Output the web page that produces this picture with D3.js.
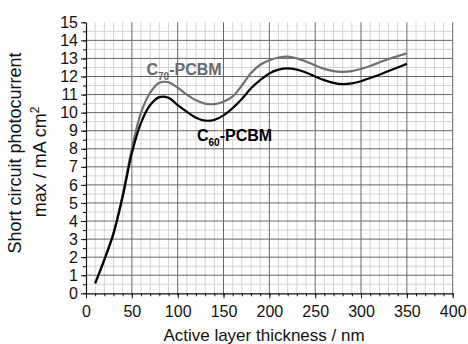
<!DOCTYPE html>
<html lang="en">
<head>
	<meta charset="UTF-8">
	<title>photocurrent vs thickness</title>
	<style>
		body { margin: 0; background: #fff; }
		text { font-family: "Liberation Sans", Arial, sans-serif; }
	</style>
</head>
<body>
	<svg id="cont" width="468" height="344"></svg>
</body>
<script src="https://cdn.jsdelivr.net/npm/d3@7"></script>
<script>
	// data
	let thickness = [10,20,30,40,50,60,70,80,90,100,110,120,130,140,150,160,170,180,190,200,210,220,230,240,250,260,270,280,290,300,310,320,330,340,350];
	let c60 = [0.55,1.85,3.3,5.35,7.75,9.43,10.42,10.86,10.82,10.42,10.05,9.72,9.56,9.6,9.85,10.25,10.75,11.35,11.8,12.17,12.38,12.45,12.38,12.22,12.0,11.8,11.65,11.58,11.62,11.74,11.92,12.1,12.3,12.5,12.7];
	let c70 = [0.55,1.88,3.35,5.45,8.0,10.0,11.1,11.65,11.68,11.38,11.0,10.68,10.5,10.47,10.6,10.9,11.5,12.2,12.65,12.9,13.05,13.1,13.0,12.83,12.62,12.42,12.3,12.26,12.3,12.42,12.58,12.78,12.97,13.13,13.28];
	let xTicks = [0,50,100,150,200,250,300,350,400];
	let yTicks = [0,1,2,3,4,5,6,7,8,9,10,11,12,13,14,15];

	let svg = d3.select("#cont");
	let x = d3.scaleLinear().domain([0,400]).range([86,452.7]);
	let y = d3.scaleLinear().domain([0,15]).range([293.3,22.3]);

	let minorX = d3.range(0,401,10);
	let minorY = d3.range(0,15.01,0.5);

	// grid
	let grid = svg.append("g");
	grid.selectAll(".mx").data(minorX.filter(d=>d%50!=0)).enter().append("line")
		.attr("x1",d=>x(d)).attr("x2",d=>x(d)).attr("y1",y(0)).attr("y2",y(15))
		.attr("stroke","#d4d4d4").attr("stroke-width",1);
	grid.selectAll(".my").data(minorY.filter(d=>d%1!=0)).enter().append("line")
		.attr("x1",x(0)).attr("x2",x(400)).attr("y1",d=>y(d)).attr("y2",d=>y(d))
		.attr("stroke","#d4d4d4").attr("stroke-width",1);
	grid.selectAll(".Mx").data(xTicks.slice(1)).enter().append("line")
		.attr("x1",d=>x(d)).attr("x2",d=>x(d)).attr("y1",y(0)).attr("y2",y(15))
		.attr("stroke","#666").attr("stroke-width",1);
	grid.selectAll(".My").data(yTicks.slice(1,-1)).enter().append("line")
		.attr("x1",x(0)).attr("x2",x(400)).attr("y1",d=>y(d)).attr("y2",d=>y(d))
		.attr("stroke","#666").attr("stroke-width",1);

	// axes
	svg.append("g").attr("transform","translate(0,"+y(0)+")")
		.call(d3.axisBottom(x).tickValues(minorX).tickSize(3).tickFormat(""))
		.call(g=>g.select(".domain").remove());
	let xaxis = svg.append("g").attr("transform","translate(0,"+y(0)+")")
		.call(d3.axisBottom(x).tickValues(xTicks).tickSize(5).tickPadding(7).tickSizeOuter(0));
	svg.append("g").attr("transform","translate("+x(0)+",0)")
		.call(d3.axisLeft(y).tickValues(minorY).tickSize(3).tickFormat(""))
		.call(g=>g.select(".domain").remove());
	let yaxis = svg.append("g").attr("transform","translate("+x(0)+",0)")
		.call(d3.axisLeft(y).tickValues(yTicks).tickSize(5).tickPadding(3).tickSizeOuter(0));
	svg.selectAll(".tick text").attr("font-size",16).attr("fill","#111")
		.style("font-family","'Liberation Sans', Arial, sans-serif");
	svg.selectAll(".domain").attr("stroke","#111").attr("stroke-width",1.2);
	svg.selectAll(".tick line").attr("stroke","#111");

	// curves
	let line = d3.line().x((d,i)=>x(thickness[i])).y(d=>y(d)).curve(d3.curveCatmullRom.alpha(0.5));
	svg.append("path").datum(c70).attr("d",line)
		.attr("fill","none").attr("stroke","#707070").attr("stroke-width",2.2);
	svg.append("path").datum(c60).attr("d",line)
		.attr("fill","none").attr("stroke","#000").attr("stroke-width",2.2);

	// series labels
	function label(px,py,sub,col)
	{
		let t = svg.append("text").attr("x",px).attr("y",py)
			.attr("font-size",16).attr("font-weight","bold").attr("fill",col);
		t.append("tspan").text("C");
		t.append("tspan").attr("font-size",10).attr("dy",5).text(sub);
		t.append("tspan").attr("dy",-5).text("-PCBM");
	}
	label(146.5,74.5,"70","#6a6a6a");
	label(197,140.5,"60","#000");

	// axis titles
	svg.append("text").attr("x",264).attr("y",341).attr("text-anchor","middle")
		.attr("font-size",17).attr("fill","#111").text("Active layer thickness / nm");
	svg.append("text").attr("transform","translate(21,153) rotate(-90)").attr("text-anchor","middle")
		.attr("font-size",18).attr("fill","#111").text("Short circuit photocurrent");
	let t2 = svg.append("text").attr("transform","translate(46,162) rotate(-90)").attr("text-anchor","middle")
		.attr("font-size",18).attr("fill","#111");
	t2.append("tspan").text("max / mA cm");
	t2.append("tspan").attr("font-size",12).attr("dy",-7).text("2");
</script>
</html>
